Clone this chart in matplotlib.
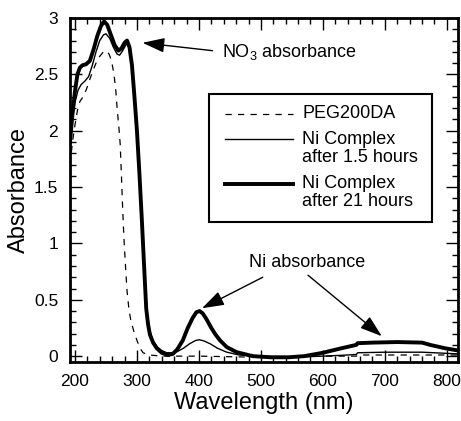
import matplotlib
matplotlib.use("Agg")
import matplotlib.pyplot as plt
from matplotlib.patches import Rectangle
from matplotlib.ticker import MultipleLocator

plt.rcParams['font.family'] = ['Liberation Sans', 'DejaVu Sans']
plt.rcParams['mathtext.fontset'] = 'custom'
plt.rcParams['mathtext.rm'] = 'Liberation Sans'
plt.rcParams['mathtext.it'] = 'Liberation Sans:italic'

# ---- data ----
peg_wl = [192, 196, 200, 204, 208, 213, 218, 223, 228, 234, 240, 246, 250, 255, 259, 263,
          266, 268, 271, 273, 275, 277, 279, 281, 284, 287, 290, 295, 300, 305, 310, 320,
          340, 400, 500, 600, 654, 656, 700, 818]
peg_abs = [1.70, 1.90, 2.05, 2.18, 2.26, 2.30, 2.36, 2.44, 2.52, 2.60, 2.66, 2.70, 2.71, 2.68,
           2.62, 2.50, 2.35, 2.20, 2.02, 1.88, 1.60, 1.30, 1.05, 0.85, 0.58, 0.42, 0.32, 0.22,
           0.14, 0.07, 0.03, 0.01, 0.0, 0.0, -0.01, 0.0, 0.0, 0.01, 0.01, 0.01]

ni15_wl = [192, 196, 200, 205, 210, 216, 222, 228, 234, 240, 246, 250, 256, 262, 268, 272,
           277, 282, 285, 289, 293, 297, 301, 305, 309, 313, 317, 321, 326, 333, 340, 348,
           356, 365, 375, 385, 395, 401, 408, 418, 430, 445, 465, 500, 550, 600, 640, 654,
           656, 700, 760, 818]
ni15_abs = [1.88, 2.10, 2.25, 2.36, 2.41, 2.44, 2.48, 2.58, 2.70, 2.80, 2.85, 2.86, 2.82,
            2.74, 2.68, 2.67, 2.71, 2.76, 2.77, 2.70, 2.52, 2.22, 1.88, 1.48, 1.05, 0.62,
            0.36, 0.22, 0.14, 0.08, 0.05, 0.03, 0.03, 0.04, 0.07, 0.11, 0.14, 0.145, 0.135,
            0.11, 0.07, 0.035, 0.01, 0.0, -0.01, 0.0, 0.01, 0.015, 0.03, 0.035, 0.035, 0.02]

ni21_wl = [192, 196, 200, 204, 208, 212, 218, 224, 230, 236, 242, 247, 252, 258, 264, 270,
           275, 280, 284, 288, 292, 296, 300, 304, 308, 312, 315, 318, 321, 326, 332, 340,
           350, 358, 365, 374, 382, 390, 396, 401, 406, 412, 420, 427, 434, 445, 461, 487,
           515, 545, 570, 600, 630, 654, 656, 680, 720, 760, 773, 797, 818]
ni21_abs = [1.90, 2.15, 2.35, 2.50, 2.56, 2.58, 2.59, 2.62, 2.72, 2.84, 2.93, 2.97, 2.94,
            2.85, 2.76, 2.71, 2.73, 2.78, 2.80, 2.74, 2.58, 2.30, 2.00, 1.62, 1.20, 0.75,
            0.42, 0.28, 0.19, 0.12, 0.07, 0.03, 0.01, 0.02, 0.06, 0.14, 0.25, 0.34, 0.39,
            0.40, 0.38, 0.33, 0.25, 0.19, 0.14, 0.08, 0.035, 0.0, -0.01, -0.01, 0.0, 0.03,
            0.07, 0.10, 0.115, 0.12, 0.125, 0.12, 0.10, 0.07, 0.05]

legend_labels = ["PEG200DA", "Ni Complex\nafter 1.5 hours", "Ni Complex\nafter 21 hours"]
x_ticks = [200, 300, 400, 500, 600, 700, 800]
y_ticks = [0, 0.5, 1, 1.5, 2, 2.5, 3]
y_ticklabels = ["0", "0.5", "1", "1.5", "2", "2.5", "3"]

# ---- figure ----
W, H = 461, 421
fig = plt.figure(figsize=(W / 100, H / 100), dpi=100)
L, R, T, B = 70, 458, 18, 362
ax = fig.add_axes([L / W, 1 - B / H, (R - L) / W, (B - T) / H])

ax.plot(peg_wl, peg_abs, color='k', lw=0.9, ls=(0, (5, 5)))
ax.plot(ni15_wl, ni15_abs, color='k', lw=1.0)
ax.plot(ni21_wl, ni21_abs, color='k', lw=2.8, solid_joinstyle='round')

ax.set_xlim(192, 818)
ax.set_ylim(-0.052, 3.0)
ax.set_xticks(x_ticks)
ax.set_yticks(y_ticks)
ax.set_yticklabels(y_ticklabels)
ax.xaxis.set_minor_locator(MultipleLocator(20))
ax.yaxis.set_minor_locator(MultipleLocator(0.1))
ax.tick_params(which='both', direction='in', top=True, right=True, width=1.0, labelsize=12.5)
ax.tick_params(which='major', length=8.5, pad=8.5)
ax.tick_params(which='minor', length=4.5)
for s in ax.spines.values():
    s.set_linewidth(2.0)

ax.set_xlabel("Wavelength (nm)", fontsize=17, labelpad=2)
ax.set_ylabel("Absorbance", fontsize=17, labelpad=3)

# ---- annotations ----
arrow = dict(arrowstyle='-|>,head_length=0.9,head_width=0.3', lw=1.0, color='k',
             mutation_scale=15, shrinkA=0, shrinkB=0)
ax.annotate('', xy=(309, 2.78), xytext=(422, 2.71), arrowprops=arrow)
ax.text(438, 2.70, "NO$_3$ absorbance", fontsize=13, ha='left', va='center')
ax.text(574, 0.83, "Ni absorbance", fontsize=13, ha='center', va='center')
ax.annotate('', xy=(405, 0.425), xytext=(503, 0.70), arrowprops=arrow)
ax.annotate('', xy=(695, 0.177), xytext=(576, 0.718), arrowprops=arrow)

# ---- legend (drawn manually to match layout) ----
def fx(px):
    return (px - L) / (R - L)

def fy(py):
    return (B - py) / (B - T)

ax.add_patch(Rectangle((fx(209), fy(222)), fx(432) - fx(209), fy(94) - fy(222),
                       transform=ax.transAxes, fill=True, facecolor='white',
                       edgecolor='k', lw=1.5, zorder=4))
styles = [dict(lw=0.9, ls=(0, (5, 5))), dict(lw=1.0), dict(lw=2.8)]
rows = [114, 139, 184]
for lab, st, py in zip(legend_labels, styles, rows):
    ax.plot([fx(225), fx(293)], [fy(py), fy(py)], color='k', transform=ax.transAxes,
            clip_on=False, zorder=5, **st)
    lines = lab.split("\n")
    for i, ln in enumerate(lines):
        ax.text(fx(302), fy(py + i * 18), ln, transform=ax.transAxes, fontsize=13,
                ha='left', va='center', zorder=5)

fig.savefig("out.png", dpi=100)
